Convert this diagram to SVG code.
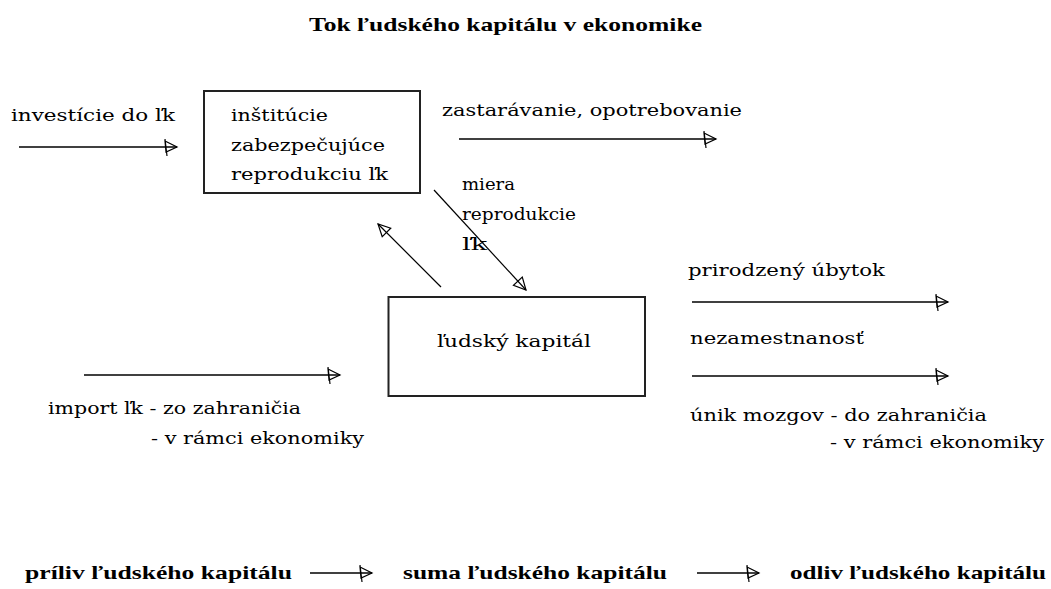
<svg xmlns="http://www.w3.org/2000/svg" width="1051" height="589" viewBox="0 0 1051 589">
<style>
.t{font-family:"DejaVu Serif","Liberation Serif",serif;font-size:17px;fill:#000}
.b{font-family:"Liberation Serif",serif;font-size:19px;font-weight:bold;fill:#000}
.box{fill:#fff;stroke:#222;stroke-width:2}
.ln{stroke:#000;stroke-width:1.6;fill:none}
.dg{stroke:#000;stroke-width:1.2;fill:none}
</style>
<defs>
<marker id="ah" markerUnits="userSpaceOnUse" markerWidth="24" markerHeight="24" refX="12" refY="0" viewBox="-4 -12 24 24" orient="auto" overflow="visible">
<path d="M0,-6 L12,0 L1,5 Z M0,-8 L2,9" fill="none" stroke="#000" stroke-width="1.2"/>
</marker>
<marker id="ah2" markerUnits="userSpaceOnUse" markerWidth="24" markerHeight="24" refX="12" refY="0" viewBox="-4 -12 24 24" orient="auto" overflow="visible">
<path d="M0,-6 L12,0 L0,6 Z" fill="none" stroke="#000" stroke-width="1.2"/>
</marker>
</defs>
<rect width="1051" height="589" fill="#fff"/>
<text class="b" x="309" y="31" textLength="393" lengthAdjust="spacingAndGlyphs">Tok ľudského kapitálu v ekonomike</text>
<g id="connectors">
<line class="ln" x1="19" y1="147" x2="177" y2="147" marker-end="url(#ah)"/>
<line class="ln" x1="459" y1="139" x2="716" y2="139" marker-end="url(#ah)"/>
<line class="dg" x1="434" y1="190" x2="526" y2="290" marker-end="url(#ah2)"/>
<line class="dg" x1="441" y1="287" x2="378" y2="224" marker-end="url(#ah2)"/>
<line class="ln" x1="84" y1="375" x2="340" y2="375" marker-end="url(#ah)"/>
<line class="ln" x1="692" y1="302" x2="948" y2="302" marker-end="url(#ah)"/>
<line class="ln" x1="692" y1="376" x2="948" y2="376" marker-end="url(#ah)"/>
<line class="ln" x1="310" y1="573" x2="372" y2="573" marker-end="url(#ah)"/>
<line class="ln" x1="697" y1="573" x2="759" y2="573" marker-end="url(#ah)"/>
</g>
<g id="institucie">
<rect class="box" x="204" y="91" width="216" height="102"/>
<text class="t" x="231" y="121" textLength="97" lengthAdjust="spacingAndGlyphs">inštitúcie</text>
<text class="t" x="231" y="151" textLength="154" lengthAdjust="spacingAndGlyphs">zabezpečujúce</text>
<text class="t" x="231" y="180" textLength="157" lengthAdjust="spacingAndGlyphs">reprodukciu ľk</text>
</g>
<g id="ludsky-kapital">
<rect class="box" x="388.5" y="297" width="256.5" height="99"/>
<text class="t" x="437" y="347" textLength="154" lengthAdjust="spacingAndGlyphs">ľudský kapitál</text>
</g>
<g id="labels">
<text class="t" x="11" y="121" textLength="164" lengthAdjust="spacingAndGlyphs">investície do ľk</text>
<text class="t" x="442" y="116" textLength="300" lengthAdjust="spacingAndGlyphs">zastarávanie, opotrebovanie</text>
<text class="t" x="462" y="190" textLength="53" lengthAdjust="spacingAndGlyphs">miera</text>
<text class="t" x="462" y="220" textLength="114" lengthAdjust="spacingAndGlyphs">reprodukcie</text>
<text class="t" x="462" y="250" textLength="25" lengthAdjust="spacingAndGlyphs">ľk</text>
<text class="t" x="48" y="414" textLength="253" lengthAdjust="spacingAndGlyphs">import ľk - zo zahraničia</text>
<text class="t" x="151" y="444" textLength="213" lengthAdjust="spacingAndGlyphs">- v rámci ekonomiky</text>
<text class="t" x="688" y="276" textLength="197" lengthAdjust="spacingAndGlyphs">prirodzený úbytok</text>
<text class="t" x="690" y="344" textLength="174" lengthAdjust="spacingAndGlyphs">nezamestnanosť</text>
<text class="t" x="690" y="421" textLength="297" lengthAdjust="spacingAndGlyphs">únik mozgov - do zahraničia</text>
<text class="t" x="830" y="448" textLength="214" lengthAdjust="spacingAndGlyphs">- v rámci ekonomiky</text>
</g>
<g id="summary">
<text class="b" x="25" y="579" textLength="267" lengthAdjust="spacingAndGlyphs">príliv ľudského kapitálu</text>
<text class="b" x="403" y="579" textLength="264" lengthAdjust="spacingAndGlyphs">suma ľudského kapitálu</text>
<text class="b" x="790" y="579" textLength="256" lengthAdjust="spacingAndGlyphs">odliv ľudského kapitálu</text>
</g>
</svg>
